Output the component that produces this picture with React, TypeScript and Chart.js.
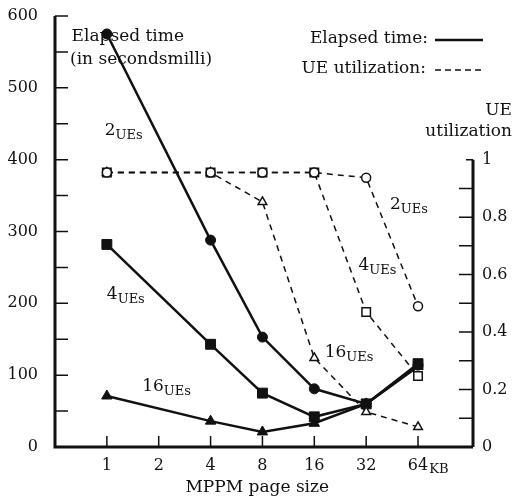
import React, { useEffect, useRef } from 'react';
import { Chart, registerables } from 'chart.js';
Chart.register(...registerables);

// Categories (MPPM page size, KB) placed on a log2 axis
const pageSizeLabels = ['1', '2', '4', '8', '16', '32', '64'];
const pageSizeLog2 = [0, 1, 2, 3, 4, 5, 6];
const measuredLog2 = [0, 2, 3, 4, 5, 6]; // 1, 4, 8, 16, 32, 64 KB

// Elapsed time (left axis)
const elapsed2UEs = [575, 288, 153, 81, 60, 114];
const elapsed4UEs = [282, 143, 75, 42, 60, 116];
const elapsed16UEs = [71, 36, 21, 33, 60, 112];

// UE utilization (right axis)
const util2UEs = [0.955, 0.955, 0.955, 0.955, 0.937, 0.49];
const util4UEs = [0.955, 0.955, 0.955, 0.955, 0.47, 0.247];
const util16UEs = [0.955, 0.955, 0.853, 0.31, 0.122, 0.07];

const leftTicks = [0, 100, 200, 300, 400, 500, 600];
const leftMinorTicks = [50, 150, 250, 350, 450, 550];
const rightTicks = [0, 0.2, 0.4, 0.6, 0.8, 1];
const rightTickLabels = ['0', '0.2', '0.4', '0.6', '0.8', '1'];
const rightMinorTicks = [0.1, 0.3, 0.5, 0.7, 0.9];

// Text annotations in data units (x: log2 page size, y: elapsed-time units)
const annotations = [
  { x: -0.68, y: 572, main: 'Elapsed time', sub: '' },
  { x: -0.71, y: 539, main: '(in secondsmilli)', sub: '' },
  { x: -0.04, y: 441, main: '2', sub: 'UEs' },
  { x: 0.0, y: 212, main: '4', sub: 'UEs' },
  { x: 0.68, y: 84, main: '16', sub: 'UEs' },
  { x: 5.46, y: 337, main: '2', sub: 'UEs' },
  { x: 4.85, y: 253, main: '4', sub: 'UEs' },
  { x: 4.2, y: 131, main: '16', sub: 'UEs' },
];

const FONT = 'DejaVu Serif';
const INK = '#111';

const pts = (ys: number[]) => measuredLog2.map((x, i) => ({ x, y: ys[i] }));

function drawSub(ctx: CanvasRenderingContext2D, main: string, sub: string, x: number, y: number, size = 17) {
  ctx.font = `${size}px "${FONT}"`;
  ctx.textAlign = 'left';
  ctx.textBaseline = 'middle';
  ctx.fillText(main, x, y);
  if (sub) {
    const w = ctx.measureText(main).width;
    ctx.font = `${size - 4}px "${FONT}"`;
    ctx.fillText(sub, x + w, y + 5);
  }
}

const decorPlugin = {
  id: 'decor',
  afterDraw(chart: any) {
    const ctx: CanvasRenderingContext2D = chart.ctx;
    const { x, y, y1 } = chart.scales;
    const a = chart.chartArea;
    ctx.save();
    ctx.strokeStyle = INK;
    ctx.fillStyle = INK;
    ctx.lineCap = 'butt';
    // axis lines
    ctx.lineWidth = 3;
    ctx.beginPath();
    ctx.moveTo(a.left, y.getPixelForValue(600));
    ctx.lineTo(a.left, a.bottom);
    ctx.lineTo(a.right, a.bottom);
    ctx.moveTo(a.right, a.bottom);
    ctx.lineTo(a.right, y1.getPixelForValue(1));
    ctx.stroke();
    // inward tick marks
    ctx.lineWidth = 1.5;
    ctx.beginPath();
    [...leftTicks, ...leftMinorTicks].forEach((v) => {
      if (v === 0) return;
      const py = y.getPixelForValue(v);
      ctx.moveTo(a.left, py);
      ctx.lineTo(a.left + 13, py);
    });
    [...rightTicks, ...rightMinorTicks].forEach((v) => {
      if (v === 0) return;
      const py = y1.getPixelForValue(v);
      ctx.moveTo(a.right, py);
      ctx.lineTo(a.right - (v === 1 ? 7 : 14), py);
    });
    pageSizeLog2.forEach((v) => {
      const px = x.getPixelForValue(v);
      ctx.moveTo(px, a.bottom);
      ctx.lineTo(px, a.bottom - 11);
    });
    ctx.stroke();

    // "KB" subscript after the 64 label
    ctx.font = `16px "${FONT}"`;
    const w64 = ctx.measureText('64').width;
    const px64 = x.getPixelForValue(6);
    ctx.font = `13px "${FONT}"`;
    ctx.textAlign = 'left';
    ctx.textBaseline = 'middle';
    ctx.fillText('KB', px64 + w64 / 2 + 1, a.bottom + 23);

    // x axis title
    ctx.font = `17px "${FONT}"`;
    ctx.textAlign = 'center';
    ctx.fillText('MPPM page size', x.getPixelForValue(2.9), a.bottom + 41);

    // right axis title
    ctx.textAlign = 'right';
    ctx.fillText('UE', chart.width - 3, 111);
    ctx.fillText('utilization', chart.width - 3, 132);

    // annotations
    annotations.forEach((t) => {
      drawSub(ctx, t.main, t.sub, x.getPixelForValue(t.x), y.getPixelForValue(t.y));
    });

    // legend
    ctx.font = `17px "${FONT}"`;
    ctx.textAlign = 'right';
    ctx.textBaseline = 'middle';
    ctx.fillText('Elapsed time:', 428, 39);
    ctx.fillText('UE utilization:', 426, 69);
    ctx.lineWidth = 2.5;
    ctx.beginPath();
    ctx.moveTo(435, 40);
    ctx.lineTo(483, 40);
    ctx.stroke();
    ctx.lineWidth = 1.5;
    ctx.setLineDash([6, 4]);
    ctx.beginPath();
    ctx.moveTo(435, 70);
    ctx.lineTo(483, 70);
    ctx.stroke();
    ctx.restore();
  },
};

export default function App() {
  const ref = useRef<HTMLCanvasElement | null>(null);
  useEffect(() => {
    if (!ref.current) return;
    const solid = (label: string, data: number[], style: string, r: number) => ({
      label,
      data: pts(data),
      yAxisID: 'y',
      borderColor: INK,
      backgroundColor: INK,
      borderWidth: 2.5,
      pointStyle: style,
      pointRadius: r,
      pointBorderWidth: 1,
      pointBackgroundColor: INK,
      pointBorderColor: INK,
      tension: 0,
    });
    const dashed = (label: string, data: number[], style: string, r: number) => ({
      label,
      data: pts(data),
      yAxisID: 'y1',
      borderColor: INK,
      backgroundColor: '#fff',
      borderWidth: 1.5,
      borderDash: [6, 5],
      pointStyle: style,
      pointRadius: r,
      pointBorderWidth: 1.5,
      pointBackgroundColor: '#fff',
      pointBorderColor: INK,
      tension: 0,
    });
    const chart = new Chart(ref.current, {
      type: 'line',
      data: {
        datasets: [
          dashed('UE utilization 2UEs', util2UEs, 'circle', 4.5),
          dashed('UE utilization 4UEs', util4UEs, 'rect', 6),
          dashed('UE utilization 16UEs', util16UEs, 'triangle', 5),
          solid('Elapsed time 2UEs', elapsed2UEs, 'circle', 5),
          solid('Elapsed time 4UEs', elapsed4UEs, 'rect', 7),
          solid('Elapsed time 16UEs', elapsed16UEs, 'triangle', 6),
        ] as any,
      },
      options: {
        animation: false,
        responsive: false,
        devicePixelRatio: 1,
        layout: { padding: { top: 16, left: 0, right: 0, bottom: 0 } },
        plugins: { legend: { display: false }, tooltip: { enabled: false } },
        scales: {
          x: {
            type: 'linear',
            min: -1,
            max: 7.06,
            grid: { display: false, drawTicks: false },
            border: { display: false },
            afterBuildTicks: (s: any) => {
              s.ticks = pageSizeLog2.map((v) => ({ value: v }));
            },
            afterFit: (s: any) => {
              s.height = 54;
              s.paddingLeft = 0;
              s.paddingRight = 0;
            },
            ticks: {
              padding: 9,
              color: INK,
              font: { family: FONT, size: 16 },
              maxRotation: 0,
              autoSkip: false,
              callback: (v: any) => pageSizeLabels[pageSizeLog2.indexOf(v)] ?? '',
            },
          },
          y: {
            position: 'left',
            min: 0,
            max: 600,
            grid: { display: false, drawTicks: false },
            border: { display: false },
            afterBuildTicks: (s: any) => {
              s.ticks = leftTicks.map((v) => ({ value: v }));
            },
            afterFit: (s: any) => {
              s.width = 55;
              s.paddingTop = 0;
              s.paddingBottom = 0;
            },
            ticks: {
              padding: 17,
              color: INK,
              font: { family: FONT, size: 16 },
              callback: (v: any) => String(v),
            },
          },
          y1: {
            position: 'right',
            min: 0,
            max: 1.5,
            grid: { display: false, drawTicks: false },
            border: { display: false },
            afterBuildTicks: (s: any) => {
              s.ticks = rightTicks.map((v) => ({ value: v }));
            },
            afterFit: (s: any) => {
              s.width = 42;
              s.paddingTop = 0;
              s.paddingBottom = 0;
            },
            ticks: {
              padding: 9,
              color: INK,
              font: { family: FONT, size: 16 },
              callback: (v: any) => rightTickLabels[rightTicks.indexOf(v)] ?? '',
            },
          },
        },
      } as any,
      plugins: [decorPlugin],
    });
    return () => chart.destroy();
  }, []);
  return (
    <div style={{ position: 'fixed', left: 0, top: 0, width: 515, height: 501, background: '#fff' }}>
      <canvas ref={ref} width={515} height={501} />
    </div>
  );
}
